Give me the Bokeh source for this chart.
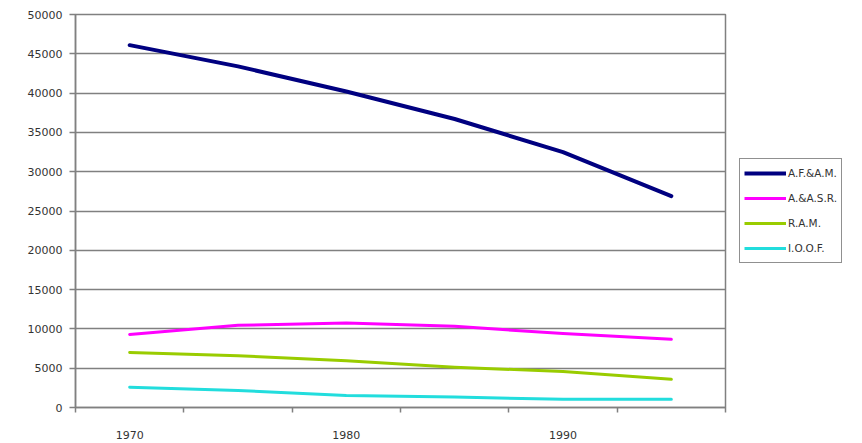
import numpy as np
from bokeh.plotting import figure
from bokeh.layouts import row
from bokeh.models import Range1d, FixedTicker, Legend, LegendItem
from bokeh.embed import file_html
from bokeh.resources import INLINE

years = [1970, 1975, 1980, 1985, 1990, 1995]
afam = [46100, 43400, 40200, 36700, 32500, 26900]
aasr = [9300, 10450, 10750, 10330, 9400, 8670]
ram = [7000, 6580, 5960, 5125, 4580, 3580]
ioof = [2580, 2170, 1540, 1330, 1040, 1040]

series_names = ["A.F.&A.M.", "A.&A.S.R.", "R.A.M.", "I.O.O.F."]
series_values = [afam, aasr, ram, ioof]
series_colors = ["#000080", "#FF00FF", "#99CC00", "#22DDDD"]
series_widths = [4, 3, 3, 3]

y_ticks = list(range(0, 50001, 5000))
x_label_years = [1970, 1980, 1990]

# category slots: each year occupies one unit slot, point drawn at slot centre
xpos = np.arange(len(years)) + 0.5

p = figure(width=727, height=443, output_backend="svg", toolbar_location=None,
           x_range=Range1d(0, len(years)), y_range=Range1d(0, 50000),
           min_border_left=75, min_border_right=2, min_border_top=14,
           min_border_bottom=36)
p.background_fill_color = "white"
p.border_fill_color = "white"
p.outline_line_color = "#808080"
p.outline_line_width = 1.5

# y axis
p.yaxis.ticker = FixedTicker(ticks=y_ticks)
p.yaxis.axis_line_color = "#808080"
p.yaxis.axis_line_width = 1.5
p.yaxis.major_tick_line_color = "#808080"
p.yaxis.major_tick_line_width = 1.5
p.yaxis.major_tick_out = 6
p.yaxis.major_tick_in = 0
p.yaxis.minor_tick_line_color = None
p.yaxis.major_label_standoff = 7
p.yaxis.major_label_text_font = "DejaVu Sans"
p.yaxis.major_label_text_font_size = "11px"
p.yaxis.major_label_text_color = "#333333"

# x axis: labels at slot centres, tick marks at slot boundaries
label_pos = [float(xpos[years.index(y)]) for y in x_label_years]
p.xaxis.ticker = FixedTicker(ticks=label_pos,
                             minor_ticks=list(range(0, len(years) + 1)))
p.xaxis.major_label_overrides = {lp: str(y) for lp, y in zip(label_pos, x_label_years)}
p.xaxis.axis_line_color = "#808080"
p.xaxis.axis_line_width = 1.5
p.xaxis.major_tick_out = 0
p.xaxis.major_tick_in = 0
p.xaxis.minor_tick_out = 5
p.xaxis.minor_tick_in = 0
p.xaxis.minor_tick_line_color = "#808080"
p.xaxis.minor_tick_line_width = 1.5
p.xaxis.major_label_standoff = 18
p.xaxis.major_label_text_font = "DejaVu Sans"
p.xaxis.major_label_text_font_size = "11px"
p.xaxis.major_label_text_color = "#333333"

p.xgrid.grid_line_color = None
p.ygrid.ticker = FixedTicker(ticks=y_ticks)
p.ygrid.grid_line_color = "#808080"
p.ygrid.grid_line_width = 1.5

for vals, col, w in zip(series_values, series_colors, series_widths):
    p.line(xpos, vals, line_color=col, line_width=w, line_join="round", line_cap="round")

# separate narrow figure that only holds the legend; its lines use the same
# data but fall outside this figure's 0..1 range, so only the legend shows
pl = figure(width=135, height=443, output_backend="svg", toolbar_location=None,
            x_range=Range1d(0, 1), y_range=Range1d(0, 1),
            x_axis_location=None, y_axis_location=None,
            min_border_left=0, min_border_right=0, min_border_top=0, min_border_bottom=0)
pl.grid.visible = False
pl.outline_line_color = None
pl.background_fill_color = "white"
pl.border_fill_color = "white"

items = []
for name, vals, col, w in zip(series_names, series_values, series_colors, series_widths):
    r = pl.line(xpos, vals, line_color=col, line_width=w)
    items.append(LegendItem(label=name, renderers=[r]))

legend = Legend(items=items, location=(12, 144))
legend.glyph_width = 42
legend.glyph_height = 20
legend.label_height = 20
legend.spacing = 5
legend.padding = 4
legend.margin = 0
legend.label_standoff = 2
legend.label_text_font = "DejaVu Sans"
legend.label_text_font_size = "10.5px"
legend.label_text_color = "#333333"
legend.border_line_color = "#222222"
legend.border_line_width = 1
legend.background_fill_color = "white"
legend.background_fill_alpha = 1
pl.add_layout(legend, "center")

layout = row(p, pl, spacing=0)
open("out.html", "w").write(file_html(layout, INLINE))
